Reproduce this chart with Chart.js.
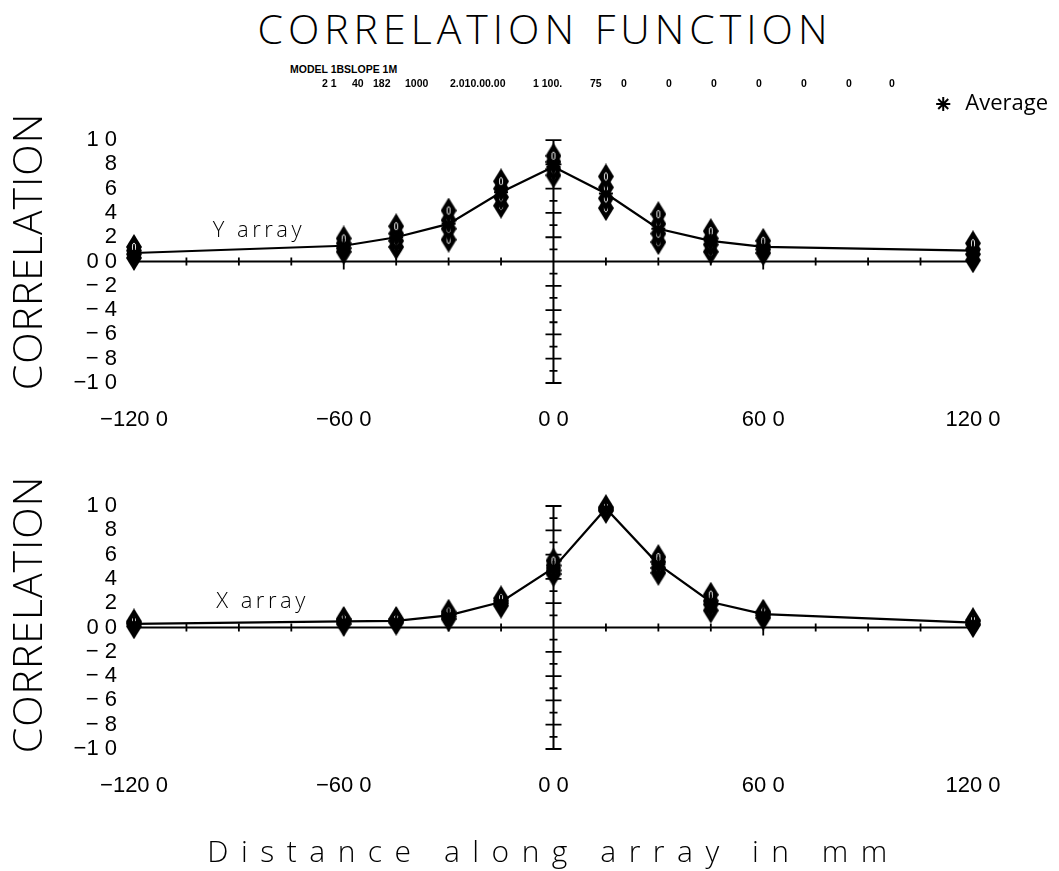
<!DOCTYPE html>
<html><head><meta charset="utf-8">
<script src="https://cdn.jsdelivr.net/npm/chart.js@4"></script>
<style>
html,body{margin:0;padding:0;background:#fff;}
body{width:1059px;height:871px;position:relative;overflow:hidden;font-family:"Open Sans",sans-serif;color:#000;}
#title{position:absolute;left:245px;width:600px;top:8px;text-align:center;font-size:41px;font-weight:300;line-height:41px;letter-spacing:5px;white-space:nowrap;z-index:2;}
#note{position:absolute;left:0;top:0;font:bold 10.5px "Liberation Sans",Arial,sans-serif;line-height:12px;white-space:pre;z-index:2;}
#note span{position:absolute;}
canvas{position:absolute;left:0;}
#cA{top:88px;}
#cB{top:450px;}
</style>
</head><body>
<div id="title">CORRELATION FUNCTION</div>
<div id="note">
<span style="left:290px;top:63px">MODEL 1BSLOPE 1M</span>
<span style="left:322px;top:77px">2 1</span>
<span style="left:352px;top:77px">40</span>
<span style="left:373px;top:77px">182</span>
<span style="left:405px;top:77px">1000</span>
<span style="left:450px;top:77px">2.010.00.00</span>
<span style="left:533px;top:77px">1 100.</span>
<span style="left:590px;top:77px">75</span>
<span style="left:621px;top:77px">0</span>
<span style="left:666px;top:77px">0</span>
<span style="left:711px;top:77px">0</span>
<span style="left:756px;top:77px">0</span>
<span style="left:801px;top:77px">0</span>
<span style="left:846px;top:77px">0</span>
<span style="left:889px;top:77px">0</span>
</div>
<canvas id="cA" width="1059" height="345"></canvas>
<canvas id="cB" width="1059" height="421"></canvas>
<script>
// ---- data ----
const lagMm = [-120, -60, -45, -30, -15, 0, 15, 30, 45, 60, 120];

const yArrayAverage = [0.07, 0.13, 0.20, 0.31, 0.57, 0.78, 0.56, 0.27, 0.17, 0.12, 0.09];
const yArraySensor1 = [0.12, 0.19, 0.29, 0.42, 0.66, 0.87, 0.70, 0.39, 0.25, 0.17, 0.15];
const yArraySensor2 = [0.09, 0.15, 0.23, 0.34, 0.60, 0.82, 0.61, 0.31, 0.19, 0.13, 0.10];
const yArraySensor3 = [0.06, 0.11, 0.17, 0.27, 0.53, 0.76, 0.52, 0.23, 0.14, 0.10, 0.06];
const yArraySensor4 = [0.03, 0.08, 0.12, 0.18, 0.46, 0.71, 0.44, 0.16, 0.08, 0.07, 0.01];

const xArrayAverage = [0.03, 0.05, 0.055, 0.10, 0.21, 0.49, 0.98, 0.52, 0.21, 0.11, 0.04];
const xArraySensor1 = [0.05, 0.07, 0.07, 0.13, 0.24, 0.55, 0.99, 0.58, 0.27, 0.13, 0.06];
const xArraySensor2 = [0.04, 0.06, 0.06, 0.11, 0.22, 0.51, 0.98, 0.54, 0.22, 0.12, 0.05];
const xArraySensor3 = [0.03, 0.05, 0.05, 0.09, 0.20, 0.47, 0.97, 0.49, 0.19, 0.10, 0.03];
const xArraySensor4 = [0.01, 0.03, 0.04, 0.07, 0.18, 0.44, 0.96, 0.45, 0.14, 0.08, 0.02];

const xTickValues = [-120, -60, 0, 60, 120];
const xTickLabels = ['\u2212120 0', '\u221260 0', '0 0', '60 0', '120 0'];
const yTickValues = [-1, -0.8, -0.6, -0.4, -0.2, 0, 0.2, 0.4, 0.6, 0.8, 1];
const yTickLabels = ['\u22121 0', '\u2212 8', '\u2212 6', '\u2212 4', '\u2212 2', '0 0', '2', '4', '6', '8', '1 0'];

const panelLabels = ['Y array', 'X array'];
const panelLabelAnchor = [[-97.5, 0.25], [-96.5, 0.21]];

// ---- axis ranges ----
const X_MIN = -120, X_MAX_AXIS = 120, X_VIEW_MAX_TOP = 142.9, X_MINOR = 15, X_MAJOR = 60;
const Y_MIN = -1, Y_MAX_AXIS = 1, Y_VIEW_MAX_TOP = 1.165, Y_VIEW_MAX_BOTTOM = 1.214, Y_MINOR = 0.1;

Chart.defaults.color = '#000';
Chart.defaults.animation = false;

function makeMarker() {
  const c = document.createElement('canvas');
  c.width = 16; c.height = 26;
  const g = c.getContext('2d');
  g.fillStyle = '#000';
  g.beginPath(); g.moveTo(8, 0); g.lineTo(16, 13); g.lineTo(8, 26); g.lineTo(0, 13); g.closePath(); g.fill();
  g.strokeStyle = '#fff'; g.lineWidth = 0.9;
  g.beginPath(); g.ellipse(8, 13, 1.6, 4, 0, 0, Math.PI * 2); g.stroke();
  return c;
}
const marker = makeMarker();

const crossAxes = {
  id: 'crossAxes',
  beforeDatasetsDraw(chart) {
    const {ctx, scales: {x, y}} = chart;
    const x0 = x.getPixelForValue(0), y0 = y.getPixelForValue(0);
    ctx.save();
    ctx.strokeStyle = '#000';
    ctx.lineWidth = 2;
    ctx.beginPath();
    ctx.moveTo(x.getPixelForValue(X_MIN), y0);
    ctx.lineTo(x.getPixelForValue(X_MAX_AXIS), y0);
    ctx.moveTo(x0, y.getPixelForValue(Y_MIN));
    ctx.lineTo(x0, y.getPixelForValue(Y_MAX_AXIS));
    ctx.stroke();
    ctx.lineWidth = 1.8;
    ctx.beginPath();
    for (let v = X_MIN; v <= X_MAX_AXIS; v += X_MINOR) {
      if (v === 0) continue;
      const px = x.getPixelForValue(v);
      const major = v % X_MAJOR === 0;
      ctx.moveTo(px, y0 - 4);
      ctx.lineTo(px, y0 + (major ? 8 : 4));
    }
    for (let i = -10; i <= 10; i++) {
      if (i === 0) continue;
      const py = y.getPixelForValue(i * Y_MINOR);
      const half = (i % 2 === 0) ? 8 : 4;
      ctx.moveTo(x0 - half, py);
      ctx.lineTo(x0 + half, py);
    }
    ctx.stroke();
    ctx.restore();
  }
};

const panelText = {
  id: 'panelText',
  afterDatasetsDraw(chart, args, opts) {
    const {ctx, scales: {x, y}} = chart;
    ctx.save();
    ctx.font = '300 22px "Open Sans", sans-serif';
    ctx.letterSpacing = '3.5px';
    ctx.fillStyle = '#000';
    ctx.textBaseline = 'middle';
    ctx.textAlign = 'left';
    ctx.fillText(opts.text, x.getPixelForValue(opts.at[0]), y.getPixelForValue(opts.at[1]));
    ctx.restore();
  }
};

const spacedTitles = {
  id: 'spacedTitles',
  afterLayout(chart, args, opts) {
    const sp = opts.spacing || {};
    for (const id of Object.keys(sp)) {
      const s = chart.scales[id];
      if (!s || s.__spaced) continue;
      const orig = s.drawTitle;
      s.drawTitle = function () {
        const c = this.ctx; c.save(); c.letterSpacing = sp[id]; orig.call(this); c.restore();
      };
      s.__spaced = true;
    }
  }
};

function pts(vals) { return lagMm.map((x, i) => ({x: x, y: vals[i]})); }
function lookup(values, labels, v) {
  const i = values.findIndex(t => Math.abs(t - v) < 1e-9);
  return i < 0 ? '' : labels[i];
}

function sensorSet(label, vals) {
  return {label: label, data: pts(vals), showLine: false, pointStyle: marker, pointRadius: 9,
          order: 1, clip: false};
}

function makeChart(id, avg, sensors, panelIdx, bottom) {
  const datasets = [
    {label: 'Average', data: pts(avg), showLine: true, borderColor: '#000', backgroundColor: '#000',
     borderWidth: 2.2, pointStyle: 'star', pointRadius: 7, pointBorderWidth: 2, pointBorderColor: '#000',
     order: 0, clip: false}
  ].concat(sensors.map((s, i) => sensorSet('Sensor ' + (i + 1), s)));

  return new Chart(document.getElementById(id), {
    type: 'scatter',
    data: {datasets: datasets},
    plugins: [crossAxes, panelText, spacedTitles],
    options: {
      responsive: false,
      animation: false,
      events: [],
      layout: {autoPadding: false, padding: {top: bottom ? 30 : 0, right: bottom ? 86 : 6, left: 0, bottom: 0}},
      plugins: {
        legend: {
          display: !bottom,
          position: 'top',
          align: 'end',
          maxHeight: 32,
          labels: {
            filter: (item) => item.text === 'Average',
            usePointStyle: true, boxWidth: 22, boxHeight: 10, padding: 5,
            color: '#000',
            font: {family: '"Open Sans", sans-serif', size: 22, weight: 400}
          }
        },
        tooltip: {enabled: false},
        panelText: {text: panelLabels[panelIdx], at: panelLabelAnchor[panelIdx]},
        spacedTitles: {spacing: bottom ? {y: '1px', x: '12.5px'} : {y: '1px'}}
      },
      scales: {
        x: {
          type: 'linear', position: 'bottom',
          min: X_MIN, max: bottom ? X_MAX_AXIS : X_VIEW_MAX_TOP,
          afterBuildTicks: (s) => { s.ticks = xTickValues.map(v => ({value: v})); },
          afterFit: (s) => { s.height = bottom ? 122 : 50; },
          grid: {display: false, drawTicks: false, tickLength: 0},
          border: {display: false},
          ticks: {
            autoSkip: false, maxRotation: 0, padding: 24, color: '#000',
            font: {family: '"Liberation Sans", Arial, sans-serif', size: 22},
            callback: (v) => lookup(xTickValues, xTickLabels, v)
          },
          title: {
            display: bottom, text: 'Distance along array in mm', color: '#000',
            font: {family: '"Open Sans", sans-serif', size: 30, weight: 300},
            padding: {top: 0, bottom: 0}
          }
        },
        y: {
          type: 'linear', position: 'left',
          min: Y_MIN, max: bottom ? Y_VIEW_MAX_BOTTOM : Y_VIEW_MAX_TOP,
          afterBuildTicks: (s) => { s.ticks = yTickValues.map(v => ({value: v})); },
          afterFit: (s) => { s.width = 134; },
          grid: {display: false, drawTicks: false, tickLength: 0},
          border: {display: false},
          ticks: {
            autoSkip: false, padding: 17, color: '#000',
            font: {family: '"Liberation Sans", Arial, sans-serif', size: 22, lineHeight: 1},
            callback: (v) => lookup(yTickValues, yTickLabels, v)
          },
          title: {
            display: true, text: 'CORRELATION', color: '#000',
            font: {family: '"Open Sans", sans-serif', size: 41, weight: 300},
            padding: {top: 6, bottom: 0}
          }
        }
      }
    }
  });
}

makeChart('cA', yArrayAverage, [yArraySensor1, yArraySensor2, yArraySensor3, yArraySensor4], 0, false);
makeChart('cB', xArrayAverage, [xArraySensor1, xArraySensor2, xArraySensor3, xArraySensor4], 1, true);
</script>
</body></html>
